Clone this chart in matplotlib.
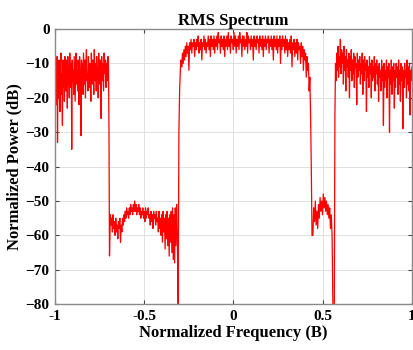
import numpy as np
import matplotlib
matplotlib.use("Agg")
import matplotlib.pyplot as plt

# Band edges (normalized frequency) and values (dB)
band1_range = (-1.0, -0.695)
band1 = [-7,-18,-10,-22,-8,-33,-12,-20,-9,-15,-24,-11,-7,-19,-13,-28,-9,-17,-10,-21,-8,-14,-18,-9,-12,-23,-8,-16,-11,-20,-7,-13,-17,-10,-35,-9,-15,-12,-19,-8,-14,-21,-10,-7,-16,-12,-18,-9,-13,-22,-8,-11,-17,-31,-9,-14,-10,-19,-7,-12,-16,-9,-20,-11,-6,-15,-13,-18,-8,-12,-17,-10,-14,-21,-7,-11,-16,-9,-13,-19,-6,-12,-15,-10,-18,-8,-14,-11,-20,-7,-13,-16,-9,-12,-26,-8,-15,-10,-14,-18,-7,-11,-13,-9,-17,-10,-12,-15,-8,-11,-30,-66]

band2_range = (-0.69, -0.315)
band2 = [-54,-57,-55,-59,-54,-58,-56,-60,-55,-59,-57,-61,-56,-58,-55,-62,-57,-59,-55,-57,-54,-56,-53,-55,-52,-54,-53,-55,-52,-54,-51,-53,-52,-54,-51,-53,-50,-53,-51,-54,-52,-53,-51,-54,-52,-55,-53,-54,-52,-55,-53,-56,-52,-55,-53,-54,-52,-55,-54,-57,-53,-56,-54,-58,-53,-55,-54,-57,-53,-56,-55,-59,-53,-58,-55,-60,-54,-62,-53,-59,-55,-64,-54,-61,-53,-63,-55,-66,-54,-62,-53,-65,-52,-67,-54,-68,-52,-63,-51,-60]

band3_range = (-0.31, 0.44)
band3 = [-80,-30,-18,-12,-9,-11,-7,-10,-6,-9,-5,-8,-4,-7,-5,-12,-4,-6,-3,-7,-4,-5,-3,-8,-4,-6,-3,-5,-2,-7,-4,-6,-3,-9,-4,-5,-2,-6,-3,-7,-4,-5,-2,-6,-3,-8,-2,-5,-3,-6,-2,-7,-3,-5,-2,-6,-1,-4,-3,-7,-2,-5,-3,-6,-2,-8,-3,-5,-2,-6,-1,-5,-3,-7,-2,-4,-3,-6,-1,-5,-2,-7,-3,-5,-2,-6,-1,-4,-3,-8,-2,-5,-2,-6,-3,-5,-1,-7,-2,-4,-3,-6,-2,-5,-3,-9,-2,-5,-3,-6,-2,-4,-3,-7,-2,-5,-3,-6,-2,-8,-3,-5,-2,-6,-3,-4,-2,-7,-3,-5,-2,-6,-3,-9,-2,-5,-3,-6,-2,-7,-3,-5,-2,-10,-3,-6,-2,-5,-3,-7,-2,-6,-3,-8,-4,-6,-3,-7,-2,-11,-4,-6,-3,-8,-4,-7,-3,-9,-4,-6,-5,-10,-4,-8,-5,-12,-6,-9,-7,-14,-8,-12,-10,-18,-14,-25,-40,-60]

band4_range = (0.445, 0.557)
band4 = [-60,-52,-56,-50,-57,-53,-58,-51,-55,-49,-53,-50,-54,-48,-52,-49,-53,-50,-54,-51,-55,-52,-58,-54,-60,-80]

band5_range = (0.565, 1.0)
band5 = [-80,-25,-10,-15,-7,-12,-5,-14,-8,-11,-3,-13,-6,-10,-7,-16,-5,-12,-8,-18,-6,-11,-9,-14,-7,-20,-8,-12,-6,-15,-9,-13,-7,-17,-8,-11,-10,-22,-7,-14,-9,-12,-8,-16,-10,-13,-7,-19,-9,-15,-8,-12,-10,-24,-9,-14,-11,-17,-8,-13,-10,-20,-9,-15,-11,-14,-8,-18,-10,-13,-9,-16,-11,-21,-10,-14,-12,-18,-9,-15,-11,-28,-10,-17,-12,-15,-9,-20,-11,-14,-10,-30,-12,-16,-9,-19,-11,-15,-10,-23,-12,-17,-10,-14,-11,-19,-9,-16,-12,-21,-10,-15,-11,-29,-12,-17,-10,-14,-12,-20,-9,-16,-11,-18,-10,-25,-12,-15,-11]

x_ticks = [-1, -0.5, 0, 0.5, 1]
x_ticklabels = ["-1", "-0.5", "0", "0.5", "1"]
y_ticks = [0, -10, -20, -30, -40, -50, -60, -70, -80]

bands = [(band1_range, band1), (band2_range, band2), (band3_range, band3),
         (band4_range, band4), (band5_range, band5)]
xs, ys = [], []
for (a, b), vals in bands:
    xs.append(np.linspace(a, b, len(vals)))
    ys.append(np.array(vals, dtype=float))
x = np.concatenate(xs)
y = np.concatenate(ys)

plt.rcParams['font.family'] = ['Liberation Serif', 'DejaVu Serif']
plt.rcParams['font.weight'] = 'bold'

fig = plt.figure(figsize=(4.14, 3.5), dpi=100)
ax = fig.add_axes([0.133, 0.131, 0.862, 0.786])
ax.plot(x, y, color='red', linewidth=0.9)
ax.set_xlim(-1, 1)
ax.set_ylim(-80, 0)
ax.set_xticks(x_ticks)
ax.set_xticklabels(x_ticklabels)
ax.set_yticks(y_ticks)
ax.grid(True, color='#e0e0e0', linewidth=0.7)
ax.set_axisbelow(True)
for s in ax.spines.values():
    s.set_color('#8a8a8a')
    s.set_linewidth(1.0)
ax.tick_params(direction='in', top=True, right=True, length=3, color='#444444',
               labelsize=11, pad=4)
for lab in ax.get_xticklabels() + ax.get_yticklabels():
    lab.set_fontweight('bold')
ax.set_title("RMS Spectrum", fontsize=12, fontweight='bold', pad=3)
ax.set_xlabel("Normalized Frequency (B)", fontsize=12, fontweight='bold', labelpad=2)
ax.set_ylabel("Normalized Power (dB)", fontsize=12, fontweight='bold', labelpad=2)
fig.savefig("out.png", dpi=100)
